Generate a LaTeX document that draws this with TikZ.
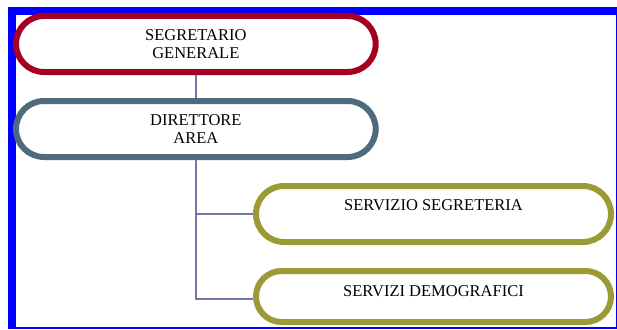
\documentclass[tikz,border=0pt]{standalone}
\usepackage{fontspec}
\setmainfont{Liberation Serif}
\usepackage{tikz}

\definecolor{rosso}{HTML}{A50021}
\definecolor{ardesia}{HTML}{4E6B7E}
\definecolor{oliva}{HTML}{9C9A34}
\definecolor{linea}{HTML}{7575A8}

\begin{document}
\begin{tikzpicture}[x=1pt,y=-1pt,
	ufficio/.style = {fill=white,rectangle,draw,line width=6pt,rounded corners=28pt,
		minimum width=355pt,minimum height=56pt,align=center,
		font=\fontsize{16.5}{18}\selectfont},
	legame/.style = {draw=linea,line width=1.5pt}]
	\useasboundingbox (0,0) rectangle (617,329);
	\fill[blue] (8,7) rectangle (617,329);
	\fill[white] (16,15) rectangle (616,327.3);

	\node[ufficio,draw=rosso,minimum width=359.7pt] (SG) at (195.85,44) {SEGRETARIO\\GENERALE};
	\node[ufficio,draw=ardesia,minimum width=359.7pt] (DA) at (195.85,129) {DIRETTORE\\AREA};
	\node[ufficio,draw=oliva] (SS) at (433.5,214) {SERVIZIO SEGRETERIA\\\mbox{}};
	\node[ufficio,draw=oliva,minimum height=51pt,rounded corners=25.5pt] (SD) at (433.5,296.5) {SERVIZI DEMOGRAFICI\\[-7pt]\mbox{}};

	\draw[legame] (SG) -- (DA);
	\draw[legame] (DA.south) |- (SS.west);
	\draw[legame] (DA.south) |- ([yshift=-2.5pt]SD.west);
\end{tikzpicture}
\end{document}
